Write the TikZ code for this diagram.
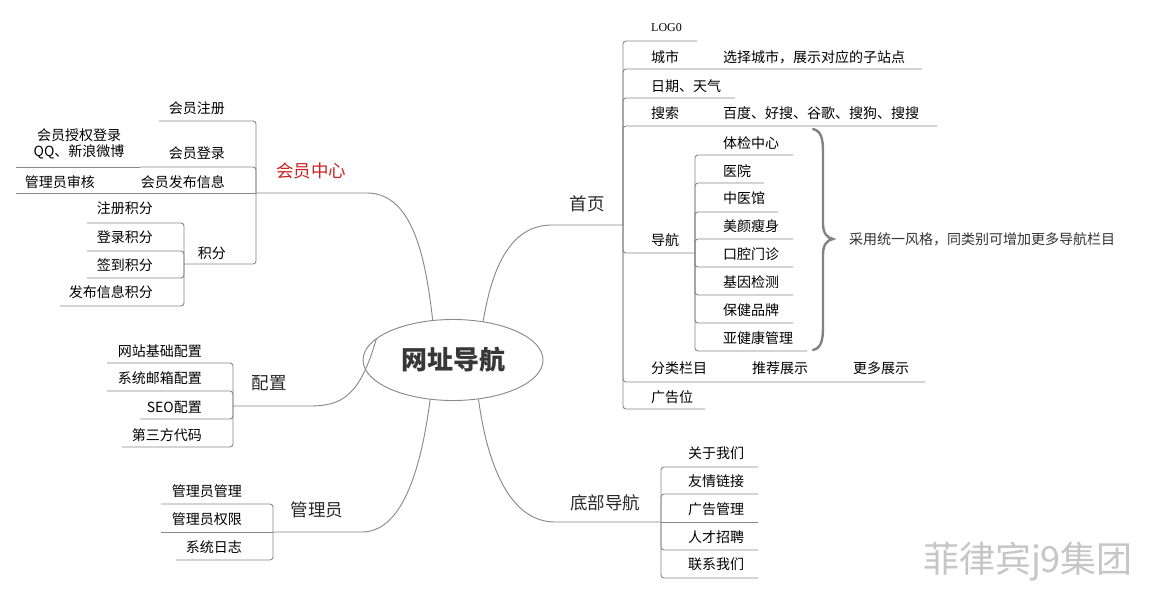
\documentclass[tikz,border=0pt]{standalone}
\usepackage{fontspec}
\setmainfont{Noto Sans CJK SC}
\newfontfamily\latinserif{Liberation Serif}
\usetikzlibrary{shapes.geometric}
\definecolor{linec}{RGB}{135,135,135}
\definecolor{lvlc}{RGB}{40,40,40}
\definecolor{redc}{RGB}{200,35,35}
\definecolor{rootc}{RGB}{55,55,55}
\definecolor{bracec}{RGB}{130,130,130}
\tikzset{
  ln/.style={draw=linec, line width=0.9pt},
  br/.style={ln, rounded corners=3pt},
  item/.style={font=\fontsize{14}{17}\selectfont, inner sep=0pt, text=black},
  iteml/.style={item, anchor=east},
  itemr/.style={item, anchor=west},
  lvl/.style={font=\fontsize{17.5}{20}\selectfont, inner sep=0pt, text=lvlc},
  rootnode/.style={ellipse, draw=linec, line width=0.9pt, fill=white, minimum width=180pt, minimum height=81pt, inner sep=0pt, font=\bfseries\fontsize{26}{30}\selectfont, text=rootc},
  bracepath/.style={draw=bracec, line width=2.4pt, line cap=round},
}
\begin{document}
\begin{tikzpicture}[x=1pt,y=-1pt]
\fill[white] (0,0) rectangle (1149,594);
\useasboundingbox (0,0) rectangle (1149,594);

% root
\node[rootnode] (root) at (453,360) {网址导航};

% junctions
\coordinate (jA) at (256,193);
\coordinate (jA4) at (184,264);
\coordinate (jB) at (623,225);
\coordinate (jB5) at (695,253);
\coordinate (jC) at (233,406);
\coordinate (jD) at (273,532);
\coordinate (jE) at (661,522);

% main connectors
\draw[ln] (root.117) .. controls (426,262) and (414,193) .. (367,193) -- (jA);
\draw[ln] (root.52) .. controls (492,268) and (510,225) .. (552,225) -- (jB);
\draw[ln] (root.164) .. controls (360,396) and (342,406) .. (310,406) -- (jC);
\draw[ln] (root.240) .. controls (421,470) and (402,532) .. (362,532) -- (jD);
\draw[ln] (root.303) .. controls (488,470) and (512,522) .. (555,522) -- (jE);

% ---------- 会员中心 ----------
\node[lvl, text=redc] (hyzx) at (311,171) {会员中心};
\coordinate (a1) at (159,121);
\coordinate (a2) at (140,167);
\coordinate (a2x) at (16,167);
\coordinate (a3) at (16,193);
\draw[br] (jA) |- (a1);
\draw[br] (jA) |- (a2);
\draw[ln] (a2) -- (a2x);
\draw[ln] (jA) -- (a3);
\draw[br] (jA) |- (jA4);
\node[iteml] (hyzc) at (225,108) {会员注册};
\node[iteml] (hydl) at (225,153) {会员登录};
\node[item, align=center] (sqdl) at (79,144) {会员授权登录\\[-1.5pt]QQ、新浪微博};
\node[iteml] (hyfb) at (225,182) {会员发布信息};
\node[iteml] (glsh) at (95,182) {管理员审核};
\node[iteml] (jf) at (226,253) {积分};
% 积分 children
\coordinate (q1) at (87,223);
\coordinate (q2) at (87,251);
\coordinate (q3) at (87,278);
\coordinate (q4) at (60,306);
\draw[br] (jA4) |- (q1);
\draw[br] (jA4) |- (q2);
\draw[br] (jA4) |- (q3);
\draw[br] (jA4) |- (q4);
\node[iteml] (zcjf) at (153,208) {注册积分};
\node[iteml] (dljf) at (153,237) {登录积分};
\node[iteml] (qdjf) at (153,265) {签到积分};
\node[iteml] (fbjf) at (153,292) {发布信息积分};

% ---------- 配置 ----------
\node[lvl] (pz) at (269,383) {配置};
\coordinate (c1) at (107,363);
\coordinate (c2) at (107,391);
\coordinate (c3) at (140,419);
\coordinate (c4) at (122,447);
\draw[br] (jC) |- (c1);
\draw[br] (jC) |- (c2);
\draw[br] (jC) |- (c3);
\draw[br] (jC) |- (c4);
\node[iteml] (wzjc) at (202,351) {网站基础配置};
\node[iteml] (xtyx) at (202,378) {系统邮箱配置};
\node[iteml] (seo) at (202,407) {SEO配置};
\node[iteml] (dsf) at (202,435) {第三方代码};

% ---------- 管理员 ----------
\node[lvl] (gly) at (317,510) {管理员};
\coordinate (d1) at (161,504);
\coordinate (d2) at (161,532);
\coordinate (d3) at (176,560);
\draw[br] (jD) |- (d1);
\draw[ln] (jD) -- (d2);
\draw[br] (jD) |- (d3);
\node[iteml] (glygl) at (242,491) {管理员管理};
\node[iteml] (glyqx) at (242,519) {管理员权限};
\node[iteml] (xtrz) at (242,547) {系统日志};

% ---------- 首页 ----------
\node[lvl] (sy) at (587,204) {首页};
\coordinate (b1) at (697,41);
\coordinate (b2) at (922,69);
\coordinate (b3) at (735,98);
\coordinate (b4) at (937,126);
\coordinate (b6) at (925,382);
\coordinate (b7) at (705,409);
\draw[br] (jB) |- (b1);
\draw[br] (jB) |- (b2);
\draw[br] (jB) |- (b3);
\draw[br] (jB) |- (b4);
\draw[br] (jB) |- (jB5);
\draw[br] (jB) |- (b6);
\draw[br] (jB) |- (b7);
\node[itemr, font=\latinserif\fontsize{12}{14}\selectfont] (logo) at (651,28) {LOG0};
\node[itemr] (cs) at (651,57) {城市};
\node[itemr] (cszd) at (723,57) {选择城市，展示对应的子站点};
\node[itemr] (rq) at (651,86) {日期、天气};
\node[itemr] (ss) at (651,113) {搜索};
\node[itemr] (ssyq) at (723,113) {百度、好搜、谷歌、搜狗、搜搜};
\node[itemr] (dh) at (651,240) {导航};
\node[itemr] (fl) at (651,368) {分类栏目};
\node[itemr] (tj) at (752,368) {推荐展示};
\node[itemr] (gd) at (853,368) {更多展示};
\node[itemr] (ggw) at (651,397) {广告位};
% 导航 children
\coordinate (n1) at (793,155);
\coordinate (n2) at (764,183);
\coordinate (n3) at (778,212);
\coordinate (n4) at (793,239);
\coordinate (n5) at (793,267);
\coordinate (n6) at (793,295);
\coordinate (n7) at (793,323);
\coordinate (n8) at (807,351);
\foreach \k in {n1,n2,n3,n4,n5,n6,n7,n8} {\draw[br] (jB5) |- (\k);}
\node[itemr] (tjzx) at (723,143) {体检中心};
\node[itemr] (yy) at (723,171) {医院};
\node[itemr] (zyg) at (723,198) {中医馆};
\node[itemr] (myss) at (723,226) {美颜瘦身};
\node[itemr] (kqmz) at (723,254) {口腔门诊};
\node[itemr] (jyjc) at (723,282) {基因检测};
\node[itemr] (bjpp) at (723,310) {保健品牌};
\node[itemr] (yjk) at (723,338) {亚健康管理};
% brace
\draw[bracepath] (813,129) .. controls (821,131) and (823,138) .. (823,152) -- (823,224)
  .. controls (823,233) and (827,238) .. (833,239)
  .. controls (827,240) and (823,245) .. (823,254) -- (823,327)
  .. controls (823,341) and (821,348) .. (813,350);
\node[itemr, text=black!80] (tyfg) at (849,239) {采用统一风格，同类别可增加更多导航栏目};

% ---------- 底部导航 ----------
\node[lvl] (dbdh) at (605,503) {底部导航};
\coordinate (e1) at (758,467);
\coordinate (e2) at (758,494);
\coordinate (e3) at (758,522);
\coordinate (e4) at (758,550);
\coordinate (e5) at (758,578);
\foreach \k in {e1,e2,e4,e5} {\draw[br] (jE) |- (\k);}
\draw[ln] (jE) -- (e3);
\node[itemr] (gywm) at (688,453) {关于我们};
\node[itemr] (yqlj) at (688,481) {友情链接};
\node[itemr] (gggl) at (688,509) {广告管理};
\node[itemr] (rczp) at (688,537) {人才招聘};
\node[itemr] (lxwm) at (688,564) {联系我们};

% watermark
\node[inner sep=0pt, font=\fontsize{36}{40}\selectfont, text=gray!45] (wm) at (1028,562) {菲律宾j9集团};
\end{tikzpicture}
\end{document}
